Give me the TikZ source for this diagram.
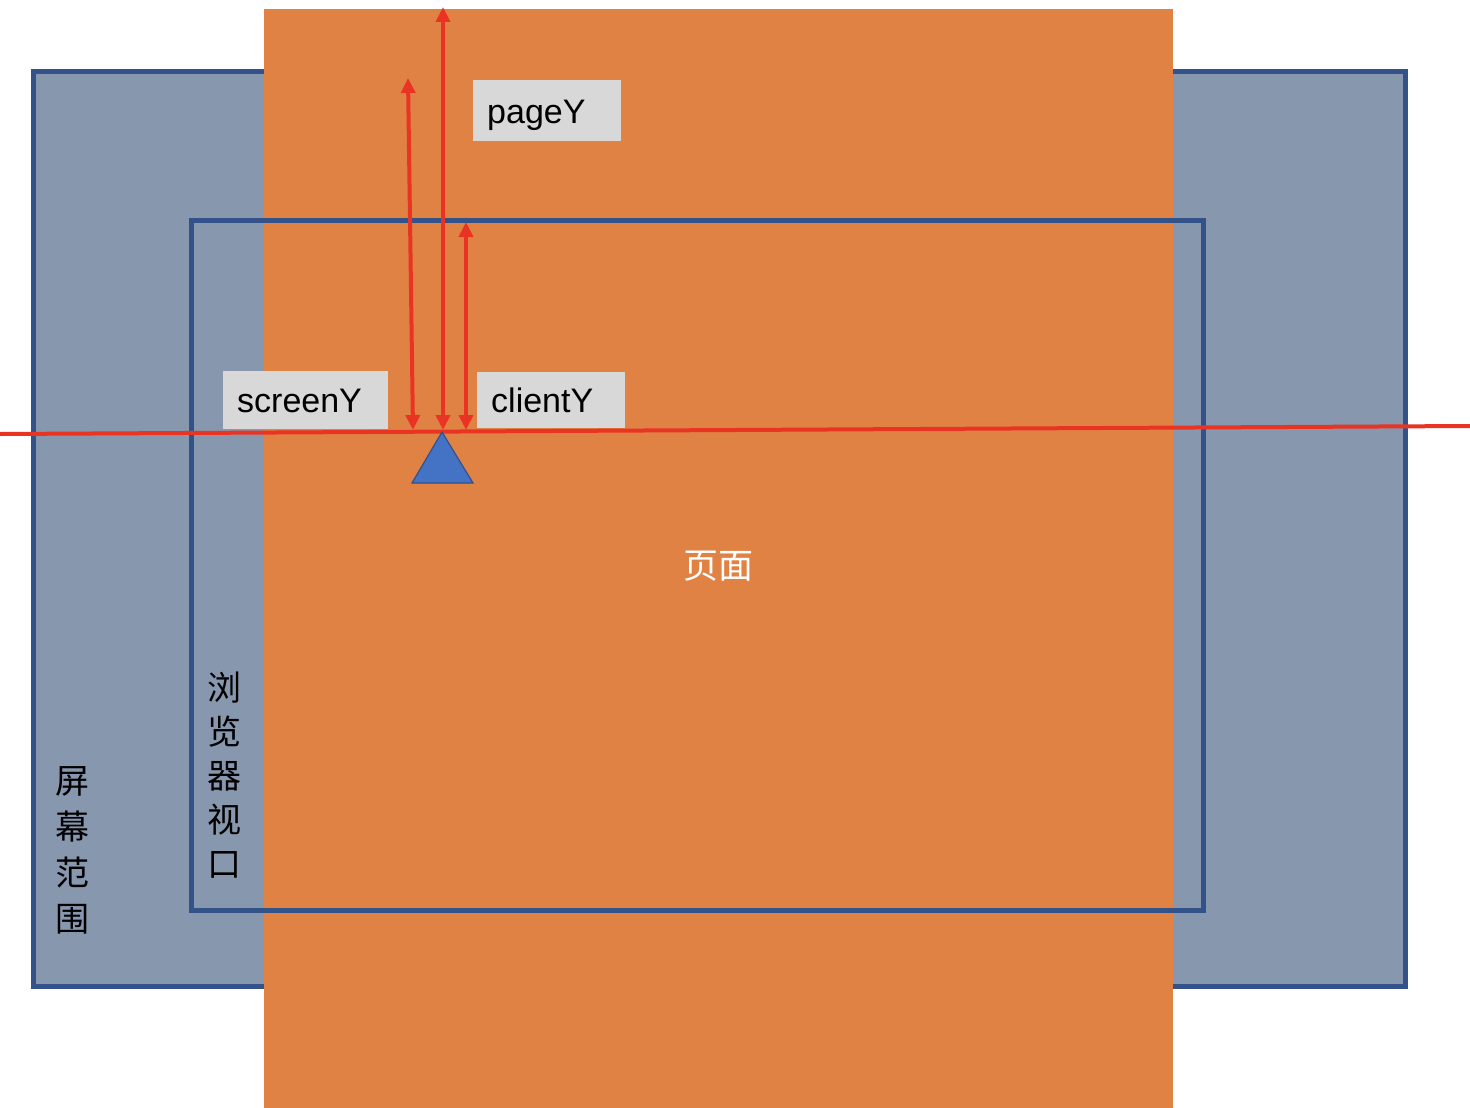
\documentclass[tikz,border=0pt]{standalone}
\usepackage{fontspec}
\setmainfont{Liberation Sans}
\newfontfamily\cjk{Noto Sans CJK SC}
\usetikzlibrary{arrows.meta}
\definecolor{pageorange}{HTML}{E08244}
\definecolor{screengray}{HTML}{8797AE}
\definecolor{frameblue}{HTML}{34528A}
\definecolor{redline}{HTML}{E93323}
\definecolor{lblgray}{HTML}{D8D8D8}
\definecolor{triblue}{HTML}{4472C4}
\definecolor{triedge}{HTML}{2F528F}
\begin{document}
\begin{tikzpicture}[x=1pt,y=-1pt,
  frame/.style={draw=frameblue,line width=5pt},
  lbl/.style={fill=lblgray,anchor=north west,inner xsep=14pt,inner ysep=0pt,
    align=left,font=\fontsize{34}{40}\selectfont,text=black,text height=25pt,text depth=0pt},
  measure/.style={draw=redline,line width=4pt,{Triangle[length=15pt,width=14pt]}-{Triangle[length=15pt,width=14pt]}},
  vlabel/.style={font=\cjk\fontsize{34}{44}\selectfont,align=center,text=black}
]
\useasboundingbox (0,0) rectangle (1470,1108);
% screen
\path[frame,fill=screengray] (33,72) rectangle (1405,986);
% page
\fill[pageorange] (264,9) rectangle (1173,1108);
% viewport
\draw[frame] (191,220) rectangle (1203,910);
% labels
\node[lbl,minimum width=148pt,minimum height=61pt,text width=120pt] (pagey) at (473,80) {pageY};
\node[lbl,minimum width=165pt,minimum height=58pt,text width=137pt] (screeny) at (223,371) {screenY};
\node[lbl,minimum width=148pt,minimum height=56pt,text width=120pt] (clienty) at (477,372) {clientY};
% mouse line
\coordinate (lineL) at (0,434);
\coordinate (lineR) at (1470,426);
\draw[redline,line width=4pt] (lineL) -- (lineR);
% arrows
\coordinate (sTop) at (408,78);
\coordinate (sBot) at (413,430);
\coordinate (pTop) at (443,7);
\coordinate (pBot) at (443,430);
\coordinate (cTop) at (466,222);
\coordinate (cBot) at (466,430);
\draw[measure] (sBot) -- (sTop);
\draw[measure] (pBot) -- (pTop);
\draw[measure] (cBot) -- (cTop);
% pointer
\coordinate (apex) at (442,432);
\coordinate (bl) at (412,483);
\coordinate (br) at (473,483);
\draw[triedge,fill=triblue,line width=1.2pt,line join=miter] (apex) -- (bl) -- (br) -- cycle;
% texts
\node[font=\cjk\fontsize{35}{40}\selectfont,text=white] (pagetext) at (718,566) {页面};
\node[vlabel] (vptext) at (224,775) {浏\\览\\器\\视\\口};
\node[vlabel,font=\cjk\fontsize{34}{46}\selectfont] (scrtext) at (72,850) {屏\\幕\\范\\围};
\end{tikzpicture}
\end{document}
